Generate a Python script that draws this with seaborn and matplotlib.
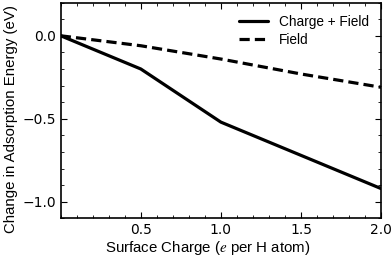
import numpy as np
import pandas as pd
import matplotlib
matplotlib.use('Agg')
import matplotlib.pyplot as plt
import seaborn as sns
from matplotlib.ticker import MultipleLocator

charge = [0.0, 0.5, 1.0, 1.5, 2.0]
charge_field = [0.0, -0.20, -0.52, -0.72, -0.92]
field_only = [0.0, -0.06, -0.14, -0.23, -0.31]
series_names = ['Charge + Field', 'Field']

df = pd.concat([
    pd.DataFrame({'q': charge, 'dE': charge_field, 'kind': series_names[0]}),
    pd.DataFrame({'q': charge, 'dE': field_only, 'kind': series_names[1]}),
])

sns.set_style('ticks')
plt.rcParams['font.family'] = ['DejaVu Sans']
plt.rcParams['font.size'] = 9
plt.rcParams['mathtext.fontset'] = 'stix'
for k in ['text.color', 'axes.labelcolor', 'xtick.color', 'ytick.color', 'axes.edgecolor']:
    plt.rcParams[k] = 'black'

fig, ax = plt.subplots(figsize=(3.92, 2.57), dpi=100)
sns.lineplot(data=df, x='q', y='dE', hue='kind', style='kind',
             palette=['k', 'k'], dashes=[(None, None), (3.2, 1.6)],
             lw=2.3, ax=ax)

ax.set_xlim(0, 2.0)
ax.set_ylim(-1.1, 0.2)
ax.xaxis.set_major_locator(MultipleLocator(0.5))
ax.xaxis.set_minor_locator(MultipleLocator(0.1))
ax.yaxis.set_major_locator(MultipleLocator(0.5))
ax.yaxis.set_minor_locator(MultipleLocator(0.1))
ax.set_xticks([0.5, 1.0, 1.5, 2.0])
ax.tick_params(which='both', direction='in', top=True, right=True, labelsize=10)
ax.tick_params(which='major', length=4)
ax.tick_params(which='minor', length=2)
for s in ax.spines.values():
    s.set_linewidth(1.2)

lab = dict(family=['Liberation Sans', 'DejaVu Sans'], size=10.8)
ax.set_xlabel('Surface Charge ($e$ per H atom)', **lab)
ax.set_ylabel('Change in Adsorption Energy (eV)', **lab)
ax.xaxis.set_label_coords(0.46, -0.095)
ax.yaxis.set_label_coords(-0.135, 0.46)
ax.legend(frameon=False, loc='upper right', handlelength=2.1,
          labelspacing=0.3, prop={'family': 'Liberation Sans', 'size': 9.8})

fig.subplots_adjust(left=0.155, right=0.972, top=0.99, bottom=0.15)
fig.savefig('out.png')
